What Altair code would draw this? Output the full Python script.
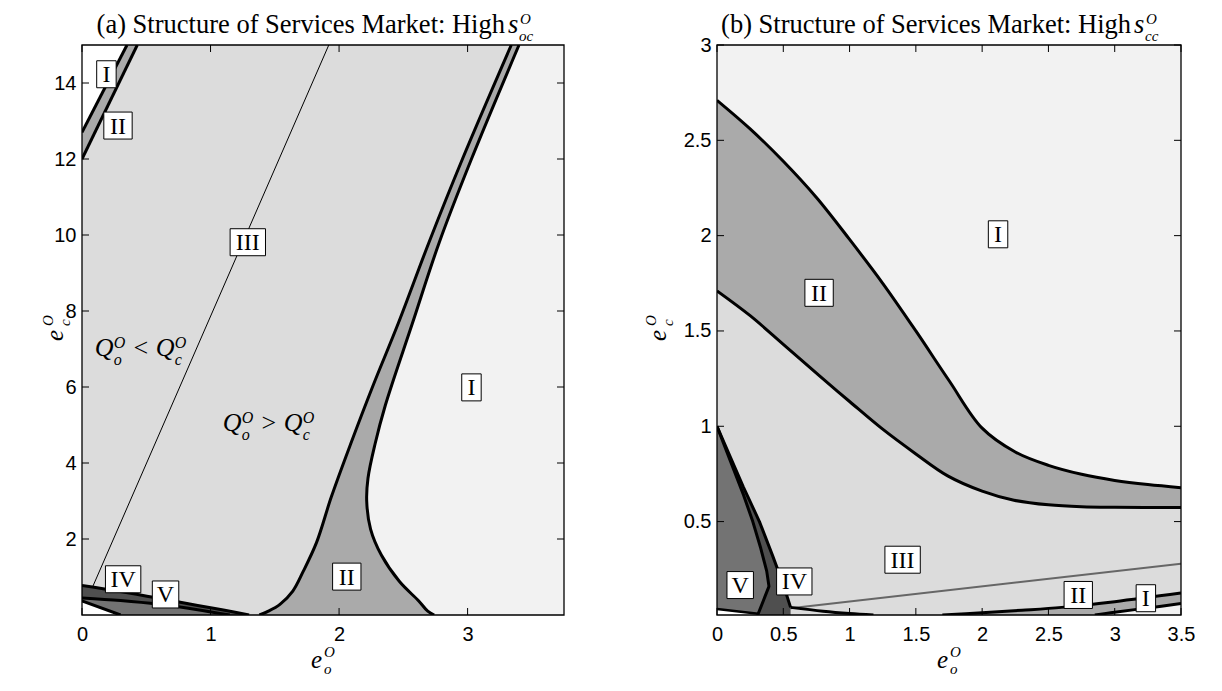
import altair as alt
import pandas as pd

# ---------------- colours / fonts ----------------
C_I, C_II, C_III, C_IV, C_V, C_W = "#f2f2f2", "#aaaaaa", "#dcdcdc", "#4f4f4f", "#737373", "#ffffff"
SERIF, SANS = "Liberation Serif", "Liberation Sans"

# ---------------- panel (a) data ----------------
a_xdomain = [0, 3.75]
a_ydomain = [0, 15]
a_xticks = [0, 1, 2, 3]
a_yticks = [2, 4, 6, 8, 10, 12, 14]
# top-left boundaries (x as function of y)
a_top1_y = [12.7, 15.0]
a_top1_x = [0.0, 0.35]
a_top2_y = [12.0, 15.0]
a_top2_x = [0.0, 0.43]
# III / II boundary
a_left_y = [0.0, 0.1, 0.28, 0.63, 1.14, 1.91, 3.11, 4.5, 6.0, 7.67, 9.81, 12.0, 15.0]
a_left_x = [1.38, 1.45, 1.54, 1.64, 1.72, 1.825, 1.94, 2.09, 2.26, 2.46, 2.70, 2.96, 3.34]
# II / I boundary
a_right_y = [0.0, 0.1, 0.37, 0.88, 1.57, 2.26, 3.0, 3.6, 4.5, 5.52, 7.67, 9.81, 12.0, 15.0]
a_right_x = [2.74, 2.69, 2.62, 2.47, 2.33, 2.245, 2.215, 2.225, 2.28, 2.36, 2.57, 2.78, 3.03, 3.40]
# Qo = Qc line
a_q_x = [0.08, 1.92]
a_q_y = [0.72, 15.0]
# bottom-left boundaries (y as function of x)
a_iv_x = [0.0, 0.3, 0.6, 0.9, 1.1, 1.3]
a_iv_y = [0.78, 0.62, 0.44, 0.25, 0.13, 0.0]
a_v_x = [0.0, 0.3, 0.6, 0.9, 1.15]
a_v_y = [0.45, 0.38, 0.28, 0.14, 0.0]
a_w_x = [0.0, 0.3]
a_w_y = [0.37, 0.0]
# region labels
a_lab = ["I", "II", "III", "I", "II", "IV", "V"]
a_lab_x = [0.19, 0.28, 1.29, 3.03, 2.06, 0.32, 0.65]
a_lab_y = [14.23, 12.88, 9.81, 5.99, 1.01, 0.94, 0.54]
a_q1_pos = [0.10, 6.82]
a_q2_pos = [1.096, 4.84]

# ---------------- panel (b) data ----------------
b_xdomain = [0, 3.5]
b_ydomain = [0.01, 3]
b_xticks = [0, 0.5, 1, 1.5, 2, 2.5, 3, 3.5]
b_yticks = [0.5, 1, 1.5, 2, 2.5, 3]
b_up_x = [0, 0.25, 0.5, 0.75, 1.0, 1.25, 1.5, 1.75, 2.0, 2.25, 2.5, 2.75, 3.0, 3.25, 3.5]
b_up_y = [2.71, 2.56, 2.39, 2.20, 1.98, 1.75, 1.50, 1.24, 0.99, 0.865, 0.795, 0.748, 0.716, 0.694, 0.678]
b_lo_x = [0, 0.25, 0.5, 0.78, 1.0, 1.24, 1.5, 1.74, 2.0, 2.24, 2.5, 2.75, 3.0, 3.5]
b_lo_y = [1.71, 1.58, 1.43, 1.26, 1.13, 0.99, 0.855, 0.74, 0.66, 0.612, 0.588, 0.578, 0.575, 0.574]
b_iv_x = [0.0, 0.1, 0.2, 0.32, 0.42, 0.5, 0.555]
b_iv_y = [1.0, 0.84, 0.68, 0.5, 0.32, 0.17, 0.05]
b_bl_x = [0.555, 0.8, 1.0, 1.18]
b_bl_y = [0.05, 0.03, 0.018, 0.01]
b_v_y = [0.01, 0.015, 0.16, 0.24, 0.36, 0.5, 0.64, 0.82, 1.0]
b_v_x = [0.305, 0.31, 0.392, 0.375, 0.33, 0.27, 0.2, 0.1, 0.0]
b_wb_x = [0.0, 0.31]
b_wb_y = [0.042, 0.017]
b_gray_x = [0.555, 3.5]
b_gray_y = [0.045, 0.279]
b_bup_x = [1.7, 2.0, 2.3, 2.6, 3.0, 3.5]
b_bup_y = [0.01, 0.022, 0.035, 0.05, 0.08, 0.125]
b_blow_x = [2.85, 3.0, 3.25, 3.5]
b_blow_y = [0.01, 0.025, 0.047, 0.07]
b_lab = ["I", "II", "III", "IV", "V", "II", "I"]
b_lab_x = [2.12, 0.77, 1.40, 0.583, 0.175, 2.725, 3.235]
b_lab_y = [2.007, 1.70, 0.30, 0.186, 0.167, 0.115, 0.098]

BOX_KEYS = ["I", "II", "III", "IV", "V"]
BOX_PATHS = ["M-0.72,-1H0.72V1H-0.72Z", "M-1.05,-1H1.05V1H-1.05Z", "M-1.31,-1H1.31V1H-1.31Z",
             "M-1.31,-1H1.31V1H-1.31Z", "M-0.98,-1H0.98V1H-0.98Z"]

W_A, W_B, H = 482, 464, 570
ONE = pd.DataFrame({"k": [0]})


def helpers(xdom, ydom, xticks, yticks):
    xs = alt.Scale(domain=xdom, nice=False, zero=False)
    ys = alt.Scale(domain=ydom, nice=False, zero=False)
    common = dict(title=None, ticks=False, tickSize=0, domain=False, grid=False, labelFont=SANS,
                  labelFontSize=20, labelColor="black", labelFlush=False, labelOverlap=False, format="~g")
    xa = alt.Axis(values=xticks, labelPadding=9, **common)
    ya = alt.Axis(values=yticks, labelPadding=6, **common)

    def X(f):
        return alt.X(f, type="quantitative", scale=xs, axis=xa)

    def Y(f):
        return alt.Y(f, type="quantitative", scale=ys, axis=ya)
    return X, Y


def varea(X, Y, xs, ys, base, color, interp="catmull-rom"):
    df = pd.DataFrame({"x": xs, "y": ys})
    df["b"] = base
    return alt.Chart(df).mark_area(color=color, opacity=1, interpolate=interp, clip=True).encode(
        x=X("x"), y=Y("y"), y2="b")


def harea(X, Y, ys, xs, color, interp="catmull-rom"):
    df = pd.DataFrame({"y": ys, "x": xs})
    df["b"] = 0.0
    return alt.Chart(df).mark_area(orient="horizontal", color=color, opacity=1, interpolate=interp,
                                   clip=True).encode(y=Y("y"), x=X("x"), x2="b")


def line(X, Y, xs, ys, color="black", width=3.0, interp="catmull-rom"):
    df = pd.DataFrame({"x": xs, "y": ys, "i": list(range(len(xs)))})
    return alt.Chart(df).mark_line(color=color, strokeWidth=width, interpolate=interp, clip=True,
                                   strokeJoin="round").encode(x=X("x"), y=Y("y"), order="i:Q")


def ticks(X, Y, xt, yt, W, L=7):
    dfx = pd.DataFrame({"t": xt})
    dfy = pd.DataFrame({"t": yt})
    r = dict(color="black", strokeWidth=1)
    return [
        alt.Chart(dfx).mark_rule(**r).encode(x=X("t"), y=alt.value(H), y2=alt.value(H - L)),
        alt.Chart(dfx).mark_rule(**r).encode(x=X("t"), y=alt.value(0), y2=alt.value(L)),
        alt.Chart(dfy).mark_rule(**r).encode(y=Y("t"), x=alt.value(0), x2=alt.value(L)),
        alt.Chart(dfy).mark_rule(**r).encode(y=Y("t"), x=alt.value(W - L), x2=alt.value(W)),
    ]


def frame(W):
    return alt.Chart(ONE).mark_rect(fillOpacity=0, stroke="black", strokeWidth=1.3).encode(
        x=alt.value(0), x2=alt.value(W), y=alt.value(0), y2=alt.value(H))


def labels(X, Y, texts, xs, ys):
    df = pd.DataFrame({"lab": texts, "x": xs, "y": ys})
    box = alt.Chart(df).mark_point(filled=True, fill="white", stroke="black", strokeWidth=1, opacity=1,
                                   fillOpacity=1, size=729).encode(
        x=X("x"), y=Y("y"),
        shape=alt.Shape("lab:N", scale=alt.Scale(domain=BOX_KEYS, range=BOX_PATHS), legend=None))
    txt = alt.Chart(df).mark_text(font=SERIF, fontSize=24, color="black", baseline="middle", dy=1).encode(
        x=X("x"), y=Y("y"), text="lab:N")
    return [box, txt]


def ptext(s, x, y, size, italic=False, align="left", angle=None):
    kw = dict(text=s, font=SERIF, fontSize=size, align=align, baseline="alphabetic", color="black")
    if italic:
        kw["fontStyle"] = "italic"
    if angle is not None:
        kw["angle"] = angle
    return alt.Chart(ONE).mark_text(**kw).encode(x=alt.value(x), y=alt.value(y))


def dtext(X, Y, s, pos, size, dx, dy, italic=True, align="left"):
    df = pd.DataFrame({"x": [pos[0]], "y": [pos[1]]})
    kw = dict(text=s, font=SERIF, fontSize=size, align=align, baseline="alphabetic", color="black",
              dx=dx, dy=dy)
    if italic:
        kw["fontStyle"] = "italic"
    return alt.Chart(df).mark_text(**kw).encode(x=X("x"), y=Y("y"))


def anchor(x, y):
    return alt.Chart(ONE).mark_rule(strokeOpacity=0, strokeWidth=1).encode(
        x=alt.value(x), x2=alt.value(x + 1), y=alt.value(y), y2=alt.value(y + 1))


def titles(W, prefix, sub, ysub, ytitle_x):
    cx = W / 2
    cy = H / 2
    return [
        ptext(prefix, cx + 182, -12, 26.5, align="right"),
        ptext("s", cx + 185, -12, 26.5, italic=True),
        ptext("O", cx + 197, -21, 15, italic=True),
        ptext(sub, cx + 196, -4, 15, italic=True),
        # x-axis title e_o^O
        ptext("e", cx - 12, H + 53, 25, italic=True),
        ptext("O", cx + 1, H + 42, 15, italic=True),
        ptext("o", cx + 1, H + 59, 15, italic=True),
        # y-axis title e_c^O (rotated)
        ptext("e", ytitle_x, cy + 11, 25, italic=True, angle=270),
        ptext("O", ytitle_x - 10, cy - 4, 15, italic=True, angle=270),
        ptext(ysub, ytitle_x + 7, cy - 4, 15, italic=True, angle=270),
    ]


# ---------------- panel (a) ----------------
XA, YA = helpers(a_xdomain, a_ydomain, a_xticks, a_yticks)
layers_a = [
    harea(XA, YA, a_right_y, a_right_x, C_II),
    harea(XA, YA, a_left_y, a_left_x, C_III),
    harea(XA, YA, a_top2_y, a_top2_x, C_II, "linear"),
    harea(XA, YA, a_top1_y, a_top1_x, C_W, "linear"),
    varea(XA, YA, a_iv_x, a_iv_y, 0.0, C_IV),
    varea(XA, YA, a_v_x, a_v_y, 0.0, C_V),
    varea(XA, YA, a_w_x, a_w_y, 0.0, C_W, "linear"),
    line(XA, YA, a_top1_x, a_top1_y),
    line(XA, YA, a_top2_x, a_top2_y),
    line(XA, YA, a_left_x, a_left_y),
    line(XA, YA, a_right_x, a_right_y),
    line(XA, YA, a_q_x, a_q_y, width=1.0),
    line(XA, YA, a_iv_x, a_iv_y),
    line(XA, YA, a_v_x, a_v_y),
    line(XA, YA, a_w_x, a_w_y),
] + ticks(XA, YA, a_xticks, a_yticks, W_A) + [frame(W_A)] + labels(XA, YA, a_lab, a_lab_x, a_lab_y)

for pos, rel in [(a_q1_pos, "<"), (a_q2_pos, ">")]:
    layers_a += [
        dtext(XA, YA, "Q", pos, 26, 0, 0),
        dtext(XA, YA, "O", pos, 16, 19, -8),
        dtext(XA, YA, "o", pos, 16, 19, 9),
        dtext(XA, YA, rel, pos, 26, 46, 0, italic=False, align="center"),
        dtext(XA, YA, "Q", pos, 26, 61, 0),
        dtext(XA, YA, "O", pos, 16, 80, -8),
        dtext(XA, YA, "c", pos, 16, 80, 9),
    ]
layers_a += titles(W_A, "(a) Structure of Services Market: High", "oc", "c", -19) + [anchor(-74, -37)]
panel_a = alt.layer(*layers_a).properties(width=W_A, height=H)

# ---------------- panel (b) ----------------
XB, YB = helpers(b_xdomain, b_ydomain, b_xticks, b_yticks)
B0 = b_ydomain[0]
layers_b = [
    varea(XB, YB, b_up_x, b_up_y, B0, C_II),
    varea(XB, YB, b_lo_x, b_lo_y, B0, C_III),
    varea(XB, YB, b_iv_x, b_iv_y, B0, C_IV, "linear"),
    harea(XB, YB, b_v_y, b_v_x, C_V, "linear"),
    varea(XB, YB, b_wb_x, b_wb_y, B0, C_W, "linear"),
    varea(XB, YB, b_bup_x, b_bup_y, B0, C_II),
    varea(XB, YB, b_blow_x, b_blow_y, B0, C_I),
    line(XB, YB, b_gray_x, b_gray_y, color="#666666", width=2.0),
    line(XB, YB, b_up_x, b_up_y),
    line(XB, YB, b_lo_x, b_lo_y),
    line(XB, YB, b_iv_x, b_iv_y, interp="linear"),
    line(XB, YB, b_bl_x, b_bl_y),
    line(XB, YB, b_v_x, b_v_y, interp="linear"),
    line(XB, YB, b_wb_x, b_wb_y, width=2.5, interp="linear"),
    line(XB, YB, b_bup_x, b_bup_y),
    line(XB, YB, b_blow_x, b_blow_y),
] + ticks(XB, YB, b_xticks, b_yticks, W_B) + [frame(W_B)] + labels(XB, YB, b_lab, b_lab_x, b_lab_y)
layers_b += titles(W_B, "(b) Structure of Services Market: High", "cc", "c", -51) + [anchor(-90, -37)]
panel_b = alt.layer(*layers_b).properties(width=W_B, height=H)

chart = alt.hconcat(panel_a, panel_b, spacing=62).resolve_scale(
    x="independent", y="independent", shape="independent"
).properties(padding=0).configure_view(strokeWidth=0, fill=C_I)

chart.save("out.html", embed_options={"renderer": "svg", "actions": False})
